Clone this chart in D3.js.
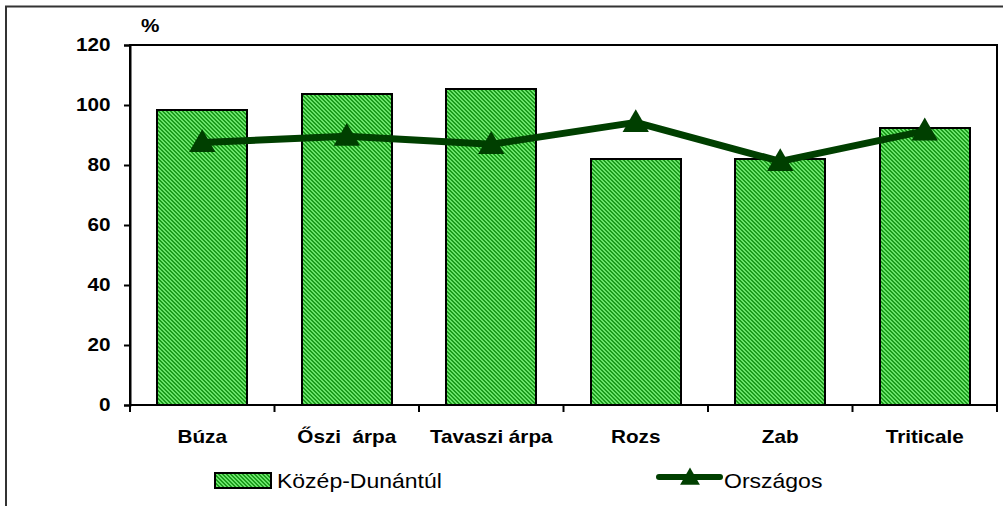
<!DOCTYPE html>
<html>
<head>
<meta charset="utf-8">
<script src="https://cdn.jsdelivr.net/npm/d3@7"></script>
<style>
  body { margin: 0; background: #fff; }
  svg text { font-family: Arial, "Liberation Sans", sans-serif; fill: #000; }
</style>
</head>
<body>
<div id="chart"></div>
<script>
/***** data *****/
var categories = ["Búza", "Őszi  árpa", "Tavaszi árpa", "Rozs", "Zab", "Triticale"];
var regionValues = [98.3, 103.8, 105.2, 82, 82, 92.3];     // Közép-Dunántúl (bars)
var nationalValues = [87.5, 89.6, 86.9, 94.2, 81.2, 91.4];  // Országos (line)
var yTicks = [0, 20, 40, 60, 80, 100, 120];
var seriesNames = ["Közép-Dunántúl", "Országos"];

//chart parameters
var width = 1003;
var height = 506;
var margin = {top: 45, right: 6, bottom: 101, left: 130};
var plotW = width - margin.left - margin.right;
var plotH = height - margin.top - margin.bottom;
var stretch = 1.15;   // text in the source is wider than it is tall
var lineColor = "#003f00";

var svg = d3.select("#chart")
  .append("svg")
  .attr("width", width)
  .attr("height", height);

// pixel hatch for the bars (diagonal stripes going down-right)
var defs = svg.append("defs");
var pat = defs.append("pattern")
  .attr("id", "hatch")
  .attr("patternUnits", "userSpaceOnUse")
  .attr("width", 4)
  .attr("height", 4);
pat.append("rect").attr("width", 4).attr("height", 4).attr("fill", "#1c9c1c");
var cells = [];
for (var py = 0; py < 4; py++) {
  for (var px = 0; px < 4; px++) {
    if (((px - py) % 4 + 4) % 4 < 2) cells.push([px, py]);
  }
}
pat.selectAll("rect.px")
  .data(cells)
  .enter()
  .append("rect")
  .attr("class", "px")
  .attr("x", function(d) { return d[0]; })
  .attr("y", function(d) { return d[1]; })
  .attr("width", 1)
  .attr("height", 1)
  .attr("shape-rendering", "crispEdges")
  .attr("fill", "#6ae46a");

// outer frame (only top and left edges are in view)
svg.append("path")
  .attr("d", "M6,506V6.5H1003")
  .attr("fill", "none")
  .attr("stroke", "#333")
  .attr("stroke-width", 2);

var g = svg.append("g")
  .attr("transform", "translate(" + margin.left + "," + margin.top + ")");

//scales
var x = d3.scaleBand()
  .domain(categories)
  .range([0, plotW])
  .padding(0);
var y = d3.scaleLinear()
  .domain([0, 120])
  .range([plotH, 0]);

// plot box
g.append("rect")
  .attr("width", plotW)
  .attr("height", plotH)
  .attr("fill", "none")
  .attr("stroke", "#000")
  .attr("stroke-width", 2);

//bars
var barW = x.bandwidth() * 0.625;
g.selectAll("rect.bar")
  .data(regionValues)
  .enter()
  .append("rect")
  .attr("class", "bar")
  .attr("x", function(d, i) { return Math.round(x(categories[i]) + (x.bandwidth() - barW) / 2); })
  .attr("y", function(d) { return Math.round(y(d)); })
  .attr("width", Math.round(barW))
  .attr("height", function(d) { return plotH - Math.round(y(d)); })
  .attr("fill", "url(#hatch)")
  .attr("stroke", "#000")
  .attr("stroke-width", 2);

//axes
var yAxis = d3.axisLeft(y)
  .tickValues(yTicks)
  .tickSize(6)
  .tickPadding(0);
var yG = g.append("g").attr("class", "y axis").call(yAxis);
yG.select(".domain").attr("stroke-width", 2);
yG.selectAll(".tick line").attr("stroke-width", 2);
yG.selectAll(".tick text")
  .attr("x", -17)
  .attr("transform", "scale(" + stretch + ",1)")
  .style("font-size", "18px")
  .style("font-weight", "bold");

// x ticks at band edges
var edges = categories.map(function(c) { return x(c); }).concat([plotW]);
g.append("g")
  .attr("class", "x axis")
  .selectAll("line")
  .data(edges)
  .enter()
  .append("line")
  .attr("x1", function(d) { return d; })
  .attr("x2", function(d) { return d; })
  .attr("y1", plotH)
  .attr("y2", plotH + 7)
  .attr("stroke", "#000")
  .attr("stroke-width", 2);
g.append("line")
  .attr("x1", 0).attr("x2", plotW)
  .attr("y1", plotH).attr("y2", plotH)
  .attr("stroke", "#000")
  .attr("stroke-width", 2);

// category labels
g.selectAll("text.cat")
  .data(categories)
  .enter()
  .append("g")
  .attr("transform", function(d) { return "translate(" + (x(d) + x.bandwidth() / 2) + "," + (plotH + 38) + ")"; })
  .append("text")
  .attr("class", "cat")
  .attr("transform", "scale(" + stretch + ",1)")
  .attr("text-anchor", "middle")
  .style("white-space", "pre")
  .style("font-size", "18px")
  .style("font-weight", "bold")
  .text(function(d) { return d; });

// unit label
svg.append("text")
  .attr("x", 141 / stretch)
  .attr("y", 32)
  .attr("transform", "scale(" + stretch + ",1)")
  .style("font-size", "18px")
  .style("font-weight", "bold")
  .text("%");

//line series
var tri = d3.symbol().type(d3.symbolTriangle).size(300);
var line = d3.line()
  .x(function(d, i) { return x(categories[i]) + x.bandwidth() / 2; })
  .y(function(d) { return y(d); });

g.append("path")
  .datum(nationalValues)
  .attr("d", line)
  .attr("fill", "none")
  .attr("stroke", lineColor)
  .attr("stroke-width", 7)
  .attr("stroke-linejoin", "round");

g.selectAll("path.marker")
  .data(nationalValues)
  .enter()
  .append("path")
  .attr("class", "marker")
  .attr("d", tri)
  .attr("transform", function(d, i) {
    return "translate(" + (x(categories[i]) + x.bandwidth() / 2) + "," + (y(d) + 2) + ")";
  })
  .attr("fill", lineColor);

//legend
var legBar = svg.append("g").attr("transform", "translate(215,473)");
legBar.append("rect")
  .attr("width", 56)
  .attr("height", 15)
  .attr("fill", "url(#hatch)")
  .attr("stroke", "#000")
  .attr("stroke-width", 2);
legBar.append("text")
  .attr("x", 62 / stretch)
  .attr("y", 15)
  .attr("transform", "scale(" + stretch + ",1)")
  .style("font-size", "20px")
  .text(seriesNames[0]);

var legLine = svg.append("g").attr("transform", "translate(659,477)");
legLine.append("line")
  .attr("x1", 0).attr("x2", 61)
  .attr("y1", 0).attr("y2", 0)
  .attr("stroke", lineColor)
  .attr("stroke-width", 6)
  .attr("stroke-linecap", "round");
legLine.append("path")
  .attr("d", d3.symbol().type(d3.symbolTriangle).size(170))
  .attr("transform", "translate(31,2)")
  .attr("fill", lineColor);
legLine.append("text")
  .attr("x", 65 / stretch)
  .attr("y", 11)
  .attr("transform", "scale(" + stretch + ",1)")
  .style("font-size", "20px")
  .text(seriesNames[1]);
</script>
</body>
</html>
